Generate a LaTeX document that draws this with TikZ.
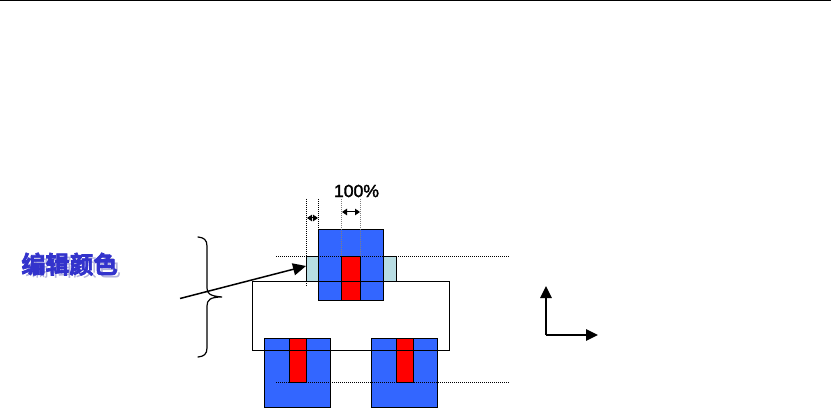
\documentclass[tikz,border=0pt]{standalone}
\usepackage{fontspec}
\setmainfont{Liberation Sans}
\newfontfamily\pctfont{Liberation Sans}[FakeBold=2]
\newfontfamily\cjk{Noto Sans CJK SC}[BoldFont={* Bold},BoldFeatures={FakeBold=3}]
\newfontfamily\cjkthin{Noto Sans CJK SC}
\usetikzlibrary{arrows.meta,calc}
\definecolor{blk}{HTML}{3366FF}
\definecolor{pale}{HTML}{B8DDE3}
\definecolor{ttl}{HTML}{3333CC}
\definecolor{shd}{HTML}{B4B4DC}
\tikzset{
 boxa/.style={draw=black,line width=1pt,fill=blk,inner sep=0pt,outer sep=0pt},
 boxr/.style={draw=black,line width=1pt,fill=red,inner sep=0pt,outer sep=0pt},
 boxp/.style={draw=black,line width=.8pt,fill=pale,inner sep=0pt,outer sep=0pt},
 wire/.style={draw=black,line width=1.2pt,inner sep=0pt,outer sep=0pt},
 guide/.style={draw=black,line width=.8pt,dash pattern=on 1pt off 1pt},
 guidein/.style={draw=black!50,line width=.7pt,dash pattern=on 1pt off 1pt},
 dim/.style={draw=black,line width=1pt,{Triangle[length=5pt,width=6.5pt]}-{Triangle[length=5pt,width=6.5pt]}},
 bigarrow/.style={draw=black,line width=1.5pt,-{Triangle[length=13pt,width=12pt]}},
 axis/.style={draw=black,line width=1.3pt,-{Triangle[length=12pt,width=11.5pt]}},
 pct/.style={font=\pctfont\fontsize{17.6pt}{19pt}\selectfont,text=black,inner sep=0pt},
 ttlt/.style={font=\cjk\bfseries\fontsize{24pt}{26pt}\selectfont,inner sep=0pt},
}
% name, x1, y1, x2, y2, style
\newcommand{\pxbox}[6]{\node[#6,minimum width={(#4-#2)*1pt},minimum height={(#5-#3)*1pt},anchor=north west] (#1) at (#2,#3) {};}
\begin{document}
\begin{tikzpicture}[x=1pt,y=-1pt]
\useasboundingbox (0,0) rectangle (831,409);
\coordinate (tl) at (0,0.5); \coordinate (tr) at (831,0.5);
\draw[line width=1.2pt] (tl) -- (tr);

% top group
\pxbox{pl}{306.5}{256.5}{396}{281.5}{boxp}
\pxbox{tb}{318.5}{230}{383.5}{300.5}{boxa}
\pxbox{tr1}{341.5}{256.5}{360.5}{300.5}{boxr}

% lower blocks
\pxbox{lb}{264.5}{338.5}{330.5}{407}{boxa}
\pxbox{lr}{289.5}{338.5}{306.5}{382.5}{boxr}
\pxbox{rb}{371.5}{338.5}{437.5}{407}{boxa}
\pxbox{rr}{396.5}{338.5}{413.5}{382.5}{boxr}

% wire loop
\pxbox{loop}{252.5}{281.5}{449.5}{350.5}{wire}

% dotted guides
\coordinate (g1a) at (276,256.5); \coordinate (g1b) at (510,256.5);
\draw[guide] (g1a) -- (g1b);
\coordinate (g2a) at (276,382.5); \coordinate (g2b) at (509,382.5);
\draw[guide] (g2a) -- (g2b);
\coordinate (v1a) at (306.5,199); \coordinate (v1b) at (306.5,287);
\coordinate (v2a) at (318.5,199); \coordinate (v2b) at (318.5,230);
\coordinate (v3a) at (341.5,199); \coordinate (v3b) at (341.5,256.5);
\coordinate (v4a) at (360.5,199); \coordinate (v4b) at (360.5,256.5);
\draw[guide] (v1a) -- (v1b);
\draw[guide] (v2a) -- (v2b);
\draw[guidein] (v3a) -- (v3b);
\draw[guidein] (v4a) -- (v4b);

% dimension arrows
\coordinate (d1a) at (307,218); \coordinate (d1b) at (318,218);
\draw[dim] (d1a) -- (d1b);
\coordinate (d2a) at (342,212); \coordinate (d2b) at (360,212);
\draw[dim] (d2a) -- (d2b);

% 100%
\node[pct] (pct) at (356.5,191) {100\%};

% brace
\coordinate (bt) at (198,237); \coordinate (bb) at (198,357); \coordinate (btip) at (222,297);
\draw[line width=1.2pt,line cap=round] (bt)
  .. controls (204,237.5) and (207,240) .. (207,246)
  -- (207,288)
  .. controls (207,293) and (209,296) .. (btip)
  .. controls (210,297) and (207,300) .. (207,306)
  -- (207,348)
  .. controls (207,354) and (204,356.5) .. (bb);

% long arrow
\coordinate (as) at (180,298.5); \coordinate (ae) at (306,266);
\draw[bigarrow] (as) -- (ae);

% axes
\coordinate (o) at (546,335); \coordinate (ox) at (598,335); \coordinate (oy) at (546,286);
\draw[axis] (o) -- (ox);
\draw[axis] (o) -- (oy);

% title with shadow
\node[ttlt,text=ttl] (tt) at (69.5,265.5) {\rlap{\kern4pt\raisebox{-3pt}{\color{shd}\cjkthin\mdseries 编辑颜色}}编辑颜色};
\end{tikzpicture}
\end{document}
